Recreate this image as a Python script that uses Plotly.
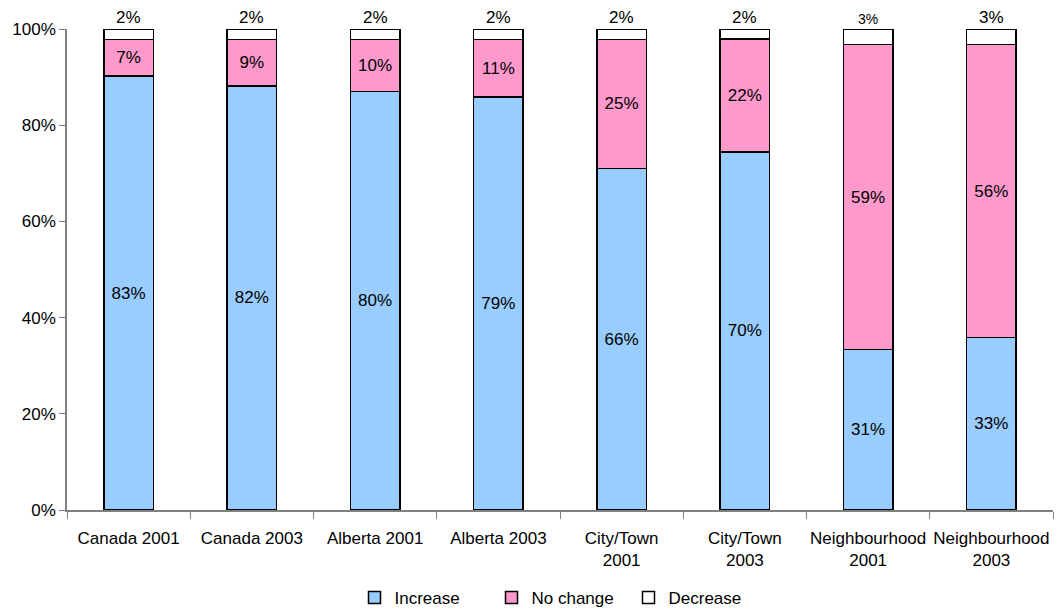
import plotly.graph_objects as go

categories = ["Canada 2001", "Canada 2003", "Alberta 2001", "Alberta 2003",
              "City/Town<br>2001", "City/Town<br>2003",
              "Neighbourhood<br>2001", "Neighbourhood<br>2003"]
increase = [83, 82, 80, 79, 66, 70, 31, 33]
no_change = [7, 9, 10, 11, 25, 22, 59, 56]
decrease = [2, 2, 2, 2, 2, 2, 3, 3]
decrease_label_sizes = [17, 17, 17, 17, 17, 17, 14, 17]
y_ticks = [0, 20, 40, 60, 80, 100]
y_tick_labels = ["0%", "20%", "40%", "60%", "80%", "100%"]

FONT = "Liberation Sans, Arial, sans-serif"
line = dict(color="#000000", width=1.5)

fig = go.Figure()
fig.add_trace(go.Bar(name="Increase", x=categories, y=increase,
                     marker=dict(color="#99CCFF", line=line),
                     text=[f"{v}%" for v in increase], textposition="inside",
                     insidetextanchor="middle",
                     textfont=dict(size=17, color="#000000", family=FONT)))
fig.add_trace(go.Bar(name="No change", x=categories, y=no_change,
                     marker=dict(color="#FF99CC", line=line),
                     text=[f"{v}%" for v in no_change], textposition="inside",
                     insidetextanchor="middle",
                     textfont=dict(size=17, color="#000000", family=FONT)))
fig.add_trace(go.Bar(name="Decrease", x=categories, y=decrease,
                     marker=dict(color="#FFFFFF", line=line),
                     textposition="none"))

for c, d, s in zip(categories, decrease, decrease_label_sizes):
    fig.add_annotation(x=c, y=100, text=f"{d}%", showarrow=False,
                       yanchor="bottom", yshift=0,
                       font=dict(size=s, color="#000000", family=FONT))

fig.update_layout(
    width=1059, height=609,
    barmode="stack", barnorm="percent", bargap=0.6,
    plot_bgcolor="white", paper_bgcolor="white",
    margin=dict(l=67, r=6, t=29, b=0, autoexpand=False),
    font=dict(family=FONT, size=17, color="#000000"),
    showlegend=True,
    legend=dict(orientation="h", x=0.5, xanchor="center", y=(609 - 598) / 580,
                yanchor="middle",
                font=dict(size=17), traceorder="normal",
                entrywidth=92, entrywidthmode="pixels", itemwidth=30),
    uniformtext=dict(mode=False),
)
fig.update_yaxes(range=[0, 100], tickvals=y_ticks, ticktext=y_tick_labels,
                 domain=[(609 - 510) / 580, 1],
                 showgrid=False, showline=True, linecolor="#808080", linewidth=1.5,
                 ticks="outside", ticklen=6, tickcolor="#808080", zeroline=False,
                 tickfont=dict(size=17), automargin=False)
fig.update_xaxes(showgrid=False, showline=True, linecolor="#808080", linewidth=1.5,
                 ticks="outside", ticklen=7, tickcolor="#808080", tickson="boundaries",
                 tickangle=0,
                 tickfont=dict(size=17), ticklabelstandoff=12, automargin=False)

fig.write_html("out.html")
